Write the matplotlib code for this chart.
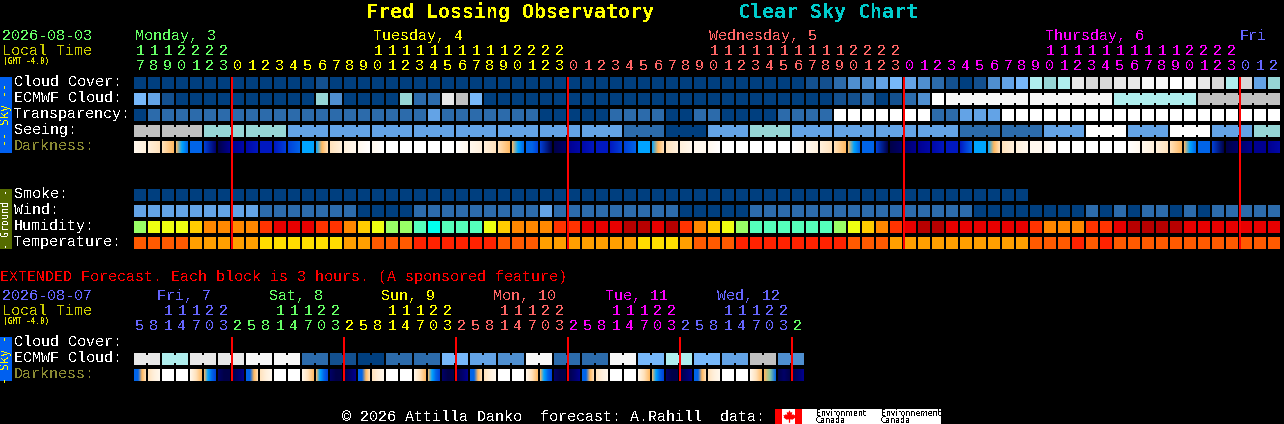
import numpy as np
import matplotlib
matplotlib.use("Agg")
import matplotlib.pyplot as plt
from matplotlib.colors import to_rgb

# ---------- palettes (level -> colour) ----------
CLOUD_COLORS = ["#003F7F", "#13508F", "#2C6BAB", "#4F8FD0", "#63A3E6", "#77B8FA",
                "#96D6D6", "#AFEEEE", "#C0C0C0", "#D8D8D8", "#E8E8E8", "#F8F8F8", "#FFFFFF"]
DARK_COLORS = dict(W="#FFFFFF", v="#FFF8EE", c="#FFF0DC", p="#FFE2BC", o="#FFB860",
                   a="#00A4FF", b="#0064E8", d="#0040D8", e="#0018C0", f="#0008A8",
                   g="#000090", h="#000068", i="#000048", t="#88C8A0")
HUM_COLORS = dict(i="#00FFEE", m="#55FFBB", l="#99FF66", y="#EEFF11", a="#FFCC00",
                  o="#FF8800", e="#FF3300", r="#E80000", d="#B80000")
TEMP_COLORS = dict(Y="#FFDD00", A="#FF9F00", D="#FF5A00", R="#FF2200")

# ---------- main forecast (hourly, 82 blocks) ----------
hours = [17, 18, 19, 20, 21, 22, 23] + list(range(24)) * 3 + [0, 1, 2]
hour_colors = ["#66FF66"] * 7 + ["#FFFF00"] * 24 + ["#FF6666"] * 24 + ["#FF00FF"] * 24 + ["#6666FF"] * 3

cloud_cover = [0]*13 + [1] + [0]*34 + [1, 1, 2, 3,
               3, 4, 5, 4, 3, 2, 1, 0, 1, 3, 4, 5, 7, 6, 7, 10, 9, 9, 10, 10, 11, 11, 12, 11, 10, 9, 7, 9, 4, 6]
ecmwf_cloud = [5, 4, 1] + [0]*10 + [6, 3, 0, 0, 0, 0, 6, 2, 2, 10, 8, 5] + [0]*25 + [1, 1,
               2, 0, 1, 2, 3, 12] + [11]*12 + [7]*6 + [8]*6
transparency = [0] + [2]*20 + [4, 2, 2, 2, 2, 2, 2, 2, 0, 0, 0, 0, 0, 2, 2, 2, 2, 0, 0, 2, 2, 0, 0, 0, 0,
                2, 2, 2, 2, 12, 12, 12, 12, 12, 12, 12, 2, 2, 4, 4, 4] + [12]*20
seeing = [8]*5 + [6]*6 + [4]*24 + [2]*3 + [0]*3 + [4]*3 + [6]*3 + [4]*12 + [2]*6 + [4]*3 + [12]*3 + [4]*3 + [12]*3 + [4]*3 + [6]*2
darkness = ("vc cp po oab bb dh ig gf fe ee ed db aa aop pc cv vW vW W W W W W Wv vc cp po oab bbd di ih gf fe ee ed db "
            "aa aop pc cv vv vW W W W W W Wv vc cp po oab bb di ih hg gf fe ee edb aa aop pc cv vv vW W W W W W "
            "Wv vc cp po oab bb di ih hg gg gf").split()
smoke = [0]*64
wind = [4]*9 + [2]*7 + [0]*4 + [2]*9 + [4, 2] + [2]*8 + [0]*5 + [2]*16 + [0]*8 + [2, 0, 2, 0, 2, 2, 0, 2, 0] + [2]*5
humidity = list("lyyyaooooerrreeoayllm" + "immmyaoooee" + "rrrddrdeoaylmmmmmmly" + "aoerddrrrrrreoooeerdddd" + "rrrrrrr")
temperature = list("DDDDAAAAAYYYYYYAADDDR" + "RRRRRDDDAA" + "AAAAAYYYADDDRRRRRRRRD" + "DDA" + "AAAAAAAAA" + "DDDRDR" + "D"*12)

# grouped rows: runs of blocks joined together
seeing_groups = [(0, 2), (2, 5)] + [(s, s + 3) for s in range(5, 80, 3)] + [(80, 82)]
ecmwf_groups = [(58, 64), (64, 70), (70, 76), (76, 82)]

day_labels = [("Monday, 3", 135, "#66FF66"), ("Tuesday, 4", 373, "#FFFF00"), ("Wednesday, 5", 709, "#FF6666"),
              ("Thursday, 6", 1045, "#FF00FF"), ("Fri", 1240, "#6666FF")]

# ---------- extended forecast (3 hourly, 48 blocks) ----------
ext_hours = [5, 8, 11, 14, 17, 20, 23] + [2, 5, 8, 11, 14, 17, 20, 23] * 5 + [2]
ext_colors = ["#6666FF"] * 7 + ["#66FF66"] * 8 + ["#FFFF00"] * 8 + ["#FF6666"] * 8 + ["#FF00FF"] * 8 + ["#6666FF"] * 8 + ["#66FF66"]
ext_ecmwf = [10, 10, 7, 7, 10, 10, 10, 10, 11, 11, 11, 11, 2, 2, 1, 1, 0, 0, 2, 2, 2, 2, 5, 5,
             4, 4, 3, 3, 11, 11, 2, 2, 2, 2, 11, 11, 5, 5, 7, 7, 5, 5, 4, 4, 8, 8, 3, 3]
ext_dark = ("bbop pcv W W vpo oabd hii ihg bbop pcv W W vpo oabd hii ihg bbop pcv W W vpo oabd hii ihg "
            "bbop pcv W W vpo oabd hii ihg bbop pcv W W vpo oabd hii ihg bbop pcv W W vpo otb ihi ihg").split()
ext_groups = [(s, s + 2) for s in range(0, 48, 2)]
ext_days = [("Fri, 7", 157, "#6666FF"), ("Sat, 8", 269, "#66FF66"), ("Sun, 9", 381, "#FFFF00"),
            ("Mon, 10", 493, "#FF6666"), ("Tue, 11", 605, "#FF00FF"), ("Wed, 12", 717, "#6666FF")]

# ---------- layout ----------
X0, PITCH, W, H = 134, 14, 12, 12
plt.rcParams["font.family"] = ["Liberation Mono", "DejaVu Sans Mono"]
plt.rcParams["text.antialiased"] = False
PT = 0.72
FS = 15.0 * PT
BOLD = ["DejaVu Sans Mono"]

fig = plt.figure(figsize=(12.84, 4.24), dpi=100, facecolor="black")
ax = fig.add_axes([0, 0, 1, 1])
ax.set_facecolor("black")

def txt(x, y, s, c="white", fs=FS, **kw):
    kw.setdefault("ha", "left")
    kw.setdefault("va", "baseline")
    ax.text(x, y, s, color=c, fontsize=fs, **kw)

def row(values, y, palette):
    xs = X0 + PITCH * np.arange(len(values))
    cols = [palette[v] for v in values]
    ax.bar(xs, H, W, bottom=y, align="edge", color=cols, linewidth=0, antialiased=False, zorder=2)

def bridges(values, y, groups, palette):
    for a, b in groups:
        for k in range(a, b - 1):
            ax.bar(X0 + PITCH * k + W, H - 4, PITCH - W, bottom=y + 2, align="edge",
                   color=palette[values[k]], linewidth=0, antialiased=False, zorder=2)

def dark_row(cells, y):
    for k, stops in enumerate(cells):
        rgb = np.array([to_rgb(DARK_COLORS[s]) for s in stops])
        if len(rgb) == 1:
            rgb = np.vstack([rgb, rgb])
        t = (np.arange(W) + 0.5) / W
        pos = np.linspace(0, 1, len(rgb))
        strip = np.stack([np.interp(t, pos, rgb[:, c]) for c in range(3)], axis=-1)[None, :, :]
        x = X0 + PITCH * k
        ax.imshow(strip, extent=(x, x + W, y + H, y), aspect="auto", interpolation="nearest", zorder=2)

def hour_row(hrs, cols, y_tens, y_units):
    for k, (h, c) in enumerate(zip(hrs, cols)):
        cx = X0 + PITCH * k + W / 2
        txt(cx, y_units, str(h % 10), c, ha="center")
        if h >= 10:
            txt(cx, y_tens, str(h // 10), c, ha="center")

# ---------- title ----------
TF = 20.0 * PT
txt(366, 18, "Fred Lossing Observatory", "#FFFF00", TF, fontweight="bold", family=BOLD)
txt(738, 18, "Clear Sky Chart", "#00CCCC", TF, fontweight="bold", family=BOLD)

# ---------- main header ----------
txt(2, 40, "2026-08-03", "#66FF66")
txt(2, 55, "Local Time", "#CCCC00")
txt(3, 64, "(GMT -4.0)", "#DDDD00", 5.6, fontweight="bold", family=BOLD)
for s, x, c in day_labels:
    txt(x, 40, s, c)
hour_row(hours, hour_colors, 55, 70)

# ---------- main rows ----------
ROW_Y = dict(cloud=77, ecmwf=93, transp=109, seeing=125, dark=141, smoke=189, wind=205, hum=221, temp=237)
row(cloud_cover, ROW_Y["cloud"], CLOUD_COLORS)
row(ecmwf_cloud, ROW_Y["ecmwf"], CLOUD_COLORS)
bridges(ecmwf_cloud, ROW_Y["ecmwf"], ecmwf_groups, CLOUD_COLORS)
row(transparency, ROW_Y["transp"], CLOUD_COLORS)
row(seeing, ROW_Y["seeing"], CLOUD_COLORS)
bridges(seeing, ROW_Y["seeing"], seeing_groups, CLOUD_COLORS)
dark_row(darkness, ROW_Y["dark"])
row(smoke, ROW_Y["smoke"], CLOUD_COLORS)
row(wind, ROW_Y["wind"], CLOUD_COLORS)
row(humidity, ROW_Y["hum"], HUM_COLORS)
row(temperature, ROW_Y["temp"], TEMP_COLORS)

for s, key, c in [("Cloud Cover:", "cloud", "white"), ("ECMWF Cloud:", "ecmwf", "white"),
                  ("Transparency:", "transp", "white"), ("Seeing:", "seeing", "white"),
                  ("Darkness:", "dark", "#8B8B33"), ("Smoke:", "smoke", "white"), ("Wind:", "wind", "white"),
                  ("Humidity:", "hum", "white"), ("Temperature:", "temp", "white")]:
    txt(14, ROW_Y[key] + 9, s, c)

ax.bar(0, 76, 12, bottom=77, align="edge", color="#0060F0", linewidth=0, antialiased=False)
txt(6, 115, "-- Sky --", "#FFFF00", 8.4, rotation=90, ha="center", va="center", family=BOLD)
ax.bar(0, 60, 12, bottom=189, align="edge", color="#556B00", linewidth=0, antialiased=False)
txt(6, 219, "- Ground -", "white", 7.2, rotation=90, ha="center", va="center", family=BOLD)

for k in [7, 31, 55, 79]:
    ax.bar(X0 + PITCH * k - 1, 172, 2, bottom=77, align="edge", color="#FF0000", linewidth=0,
           antialiased=False, zorder=4)

# ---------- extended ----------
txt(0, 281, "EXTENDED Forecast. Each block is 3 hours. (A sponsored feature)", "#FF0000")
txt(2, 300, "2026-08-07", "#6666FF")
txt(2, 315, "Local Time", "#CCCC00")
txt(3, 324, "(GMT -4.0)", "#DDDD00", 5.6, fontweight="bold", family=BOLD)
for s, x, c in ext_days:
    txt(x, 300, s, c)
hour_row(ext_hours, ext_colors, 315, 330)

row(ext_ecmwf, 353, CLOUD_COLORS)
bridges(ext_ecmwf, 353, ext_groups, CLOUD_COLORS)
dark_row(ext_dark, 369)
for s, y, c in [("Cloud Cover:", 346, "white"), ("ECMWF Cloud:", 362, "white"), ("Darkness:", 378, "#8B8B33")]:
    txt(14, y, s, c)
ax.bar(0, 44, 12, bottom=337, align="edge", color="#0060F0", linewidth=0, antialiased=False)
txt(6, 359, "- Sky -", "#FFFF00", 8.4, rotation=90, ha="center", va="center", family=BOLD)
for k in [7, 15, 23, 31, 39, 47]:
    ax.bar(X0 + PITCH * k - 1, 44, 2, bottom=337, align="edge", color="#FF0000", linewidth=0,
           antialiased=False, zorder=4)

# ---------- footer ----------
txt(342, 421, "\u00a9 2026 Attilla Danko  forecast: A.Rahill  data:", "white")
ax.bar(775, 15, 166, bottom=409, align="edge", color="white", linewidth=0, antialiased=False)
ax.bar([775, 795], 15, 7, bottom=409, align="edge", color="#FF0000", linewidth=0, antialiased=False)
LEAF = [(0, 1), (.2, .6), (.45, .75), (.35, .2), (.6, .4), (.7, .2), (1, .25), (.85, -.05), (.95, -.15),
        (.5, -.5), (.1, -.45), (.1, -1), (-.1, -1), (-.1, -.45), (-.5, -.5), (-.95, -.15), (-.85, -.05),
        (-1, .25), (-.7, .2), (-.6, .4), (-.35, .2), (-.45, .75), (-.2, .6)]
ax.plot([788.5], [416], marker=LEAF, ms=9, color="#FF0000", mew=0, zorder=3)
for x, a in [(816, "Environment"), (881, "Environnement")]:
    txt(x, 416, a, "black", 5.6, family="DejaVu Sans")
    txt(x, 423, "Canada", "black", 5.6, family="DejaVu Sans")

ax.set_xlim(0, 1284)
ax.set_ylim(424, 0)
ax.axis("off")
fig.savefig("out.png", dpi=100, facecolor="black")
